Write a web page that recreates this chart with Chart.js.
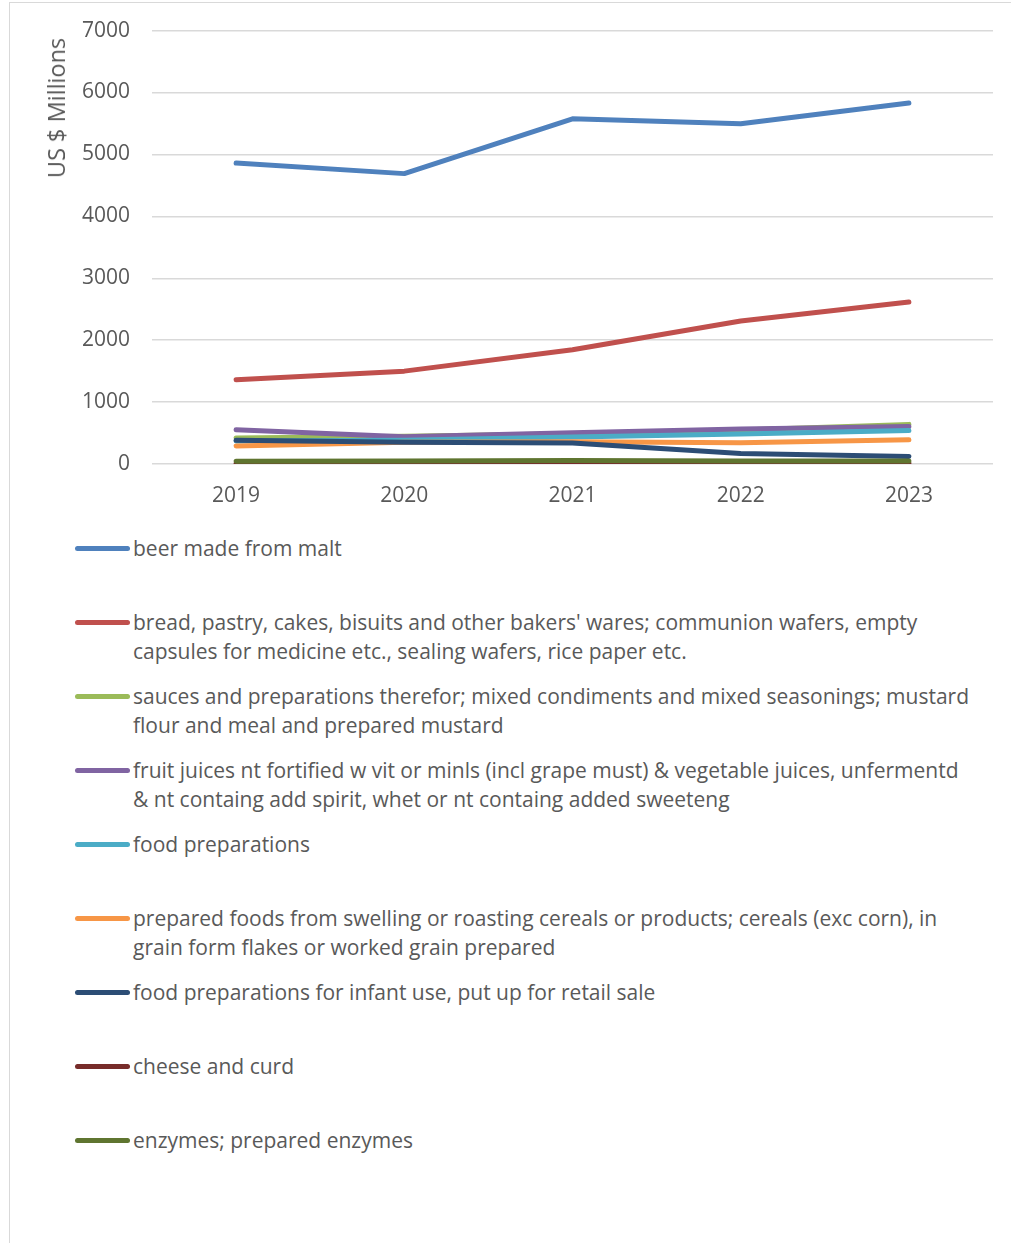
<!DOCTYPE html>
<html>
<head>
<meta charset="utf-8">
<script src="https://cdn.jsdelivr.net/npm/chart.js@4.4.0/dist/chart.umd.min.js"></script>
<style>
  html, body { margin: 0; padding: 0; background: #fff; }
  body { width: 1011px; height: 1243px; position: relative; overflow: hidden; font-family: "Open Sans", sans-serif; }
  #frame { position: absolute; left: 9px; top: 2px; right: -5px; bottom: -5px; border-top: 1.5px solid #d9d9d9; border-left: 1.5px solid #d9d9d9; }
  #chartBox { position: absolute; left: 0; top: -4px; width: 1011px; height: 530px; }
  #yTitle { position: absolute; left: 56px; top: 108px; transform: translate(-50%, -50%) rotate(-90deg); color: #595959; font-size: 23.5px; white-space: nowrap; }
  .item { position: absolute; left: 0; height: 74px; width: 1011px; }
  .item .swatch { position: absolute; left: 75px; top: 12px; width: 55px; height: 5px; border-radius: 3px; }
  .item .txt { position: absolute; left: 133px; top: 0; color: #595959; font-size: 21px; line-height: 29px; white-space: pre; }
</style>
</head>
<body>
<div id="frame"></div>
<div id="chartBox"><canvas id="chart" width="1011" height="530"></canvas></div>
<div id="yTitle">US $ Millions</div>
<div id="legend"></div>
<script>
const years = ['2019', '2020', '2021', '2022', '2023'];

const seriesNames = [
  "beer made from malt",
  "bread, pastry, cakes, bisuits and other bakers' wares; communion wafers, empty\ncapsules for medicine etc., sealing wafers, rice paper etc.",
  "sauces and preparations therefor; mixed condiments and mixed seasonings; mustard\nflour and meal and prepared mustard",
  "fruit juices nt fortified w vit or minls (incl grape must) & vegetable juices, unfermentd\n& nt containg add spirit, whet or nt containg added sweeteng",
  "food preparations",
  "prepared foods from swelling or roasting cereals or products; cereals (exc corn), in\ngrain form flakes or worked grain prepared",
  "food preparations for infant use, put up for retail sale",
  "cheese and curd",
  "enzymes; prepared enzymes"
];

const beer     = [4860, 4690, 5575, 5495, 5830];
const bread    = [1360, 1500, 1845, 2310, 2615];
const sauces   = [420, 450, 490, 550, 640];
const juices   = [555, 440, 505, 565, 605];
const foodPrep = [370, 385, 435, 485, 540];
const cereals  = [290, 350, 360, 345, 390];
const infant   = [385, 350, 340, 170, 120];
const cheese   = [10, 12, 12, 12, 12];
const enzymes  = [45, 50, 55, 50, 50];

const colors = ['#4f81bd', '#c0504d', '#9bbb59', '#8064a2', '#4bacc6', '#f79646', '#2c4d75', '#772c2a', '#5f7530'];
const allValues = [beer, bread, sauces, juices, foodPrep, cereals, infant, cheese, enzymes];

// excel draws later series on top, chart.js draws lower order on top
const datasets = allValues.map(function(vals, i) {
  return {
    label: seriesNames[i],
    data: vals,
    borderColor: colors[i],
    backgroundColor: colors[i],
    borderWidth: 5,
    borderCapStyle: 'round',
    borderJoinStyle: 'round',
    pointRadius: 0,
    tension: 0,
    fill: false,
    order: -i
  };
});

const tickFont = { family: '"Open Sans", sans-serif', size: 21 };

new Chart(document.getElementById('chart'), {
  type: 'line',
  data: { labels: years, datasets: datasets },
  options: {
    responsive: false,
    animation: false,
    layout: { padding: { left: 0, right: 18, top: 20, bottom: 0 } },
    plugins: { legend: { display: false }, tooltip: { enabled: false } },
    scales: {
      x: {
        offset: true,
        grid: { display: false },
        border: { display: false },
        ticks: { color: '#595959', font: tickFont, padding: 11, maxRotation: 0 },
        afterFit: function(scale) { scale.height = 62; }
      },
      y: {
        min: 0,
        max: 7000,
        grid: { color: '#d9d9d9', lineWidth: 1.5, drawTicks: false },
        border: { display: false },
        ticks: {
          stepSize: 1000, color: '#595959', font: tickFont, padding: 22,
          callback: function(v) { return String(v); }
        },
        afterFit: function(scale) { scale.width = 152; }
      }
    }
  }
});

// legend below the plot, one 74px slot per series
const legend = document.getElementById('legend');
seriesNames.forEach(function(name, i) {
  const item = document.createElement('div');
  item.className = 'item';
  item.style.top = (534 + i * 74) + 'px';
  const sw = document.createElement('span');
  sw.className = 'swatch';
  sw.style.background = colors[i];
  const txt = document.createElement('span');
  txt.className = 'txt';
  txt.textContent = name;
  item.appendChild(sw);
  item.appendChild(txt);
  legend.appendChild(item);
});
</script>
</body>
</html>
